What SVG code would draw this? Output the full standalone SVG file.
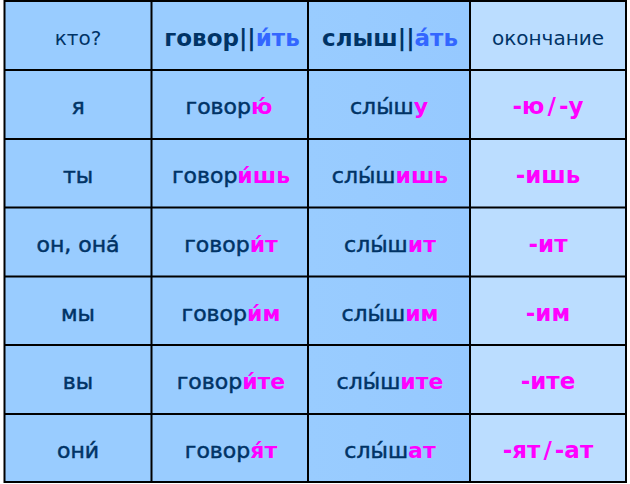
<svg xmlns="http://www.w3.org/2000/svg" width="630" height="484" viewBox="0 0 630 484">
<defs>
<linearGradient id="g3" x1="0" y1="0" x2="1" y2="0">
<stop offset="0" stop-color="#99CCFF"/>
<stop offset="1" stop-color="#96C9FF"/>
</linearGradient>
<style>
.c{fill:#99CCFF}
.c3{fill:url(#g3)}
.c4{fill:#BBDDFF}
text{font-family:"DejaVu Sans","Noto Sans",sans-serif;text-anchor:middle;fill:#003366;font-size:22px}
.r{stroke:#003366;stroke-width:0.5}
.h{font-size:20px}
.hb{font-size:23px;font-weight:bold}
.m{fill:#FF00FF;font-weight:bold;stroke:none}
.e{font-size:23px}
.bl{fill:#3366FF;font-weight:bold}
.grid{stroke:#000;stroke-width:2;fill:none}
</style>
</defs>
<rect x="0" y="0" width="630" height="484" fill="#FFFFFF"/>
<g id="backgrounds">
<rect class="c" x="4.5" y="1" width="147" height="481"/>
<rect class="c" x="151.5" y="1" width="157" height="481"/>
<rect class="c3" x="308" y="1" width="162" height="481"/>
<rect class="c4" x="470" y="1" width="156" height="481"/>
</g>
<g id="header">
<text class="h" x="78" y="44.5">кто?</text>
<text class="hb" x="232" y="46">говор||<tspan class="bl">и́ть</tspan></text>
<text class="hb" x="390" y="46">слыш||<tspan class="bl">а́ть</tspan></text>
<text class="h" x="548" y="44.5">окончание</text>
</g>
<g id="row-ya">
<text class="r" x="78" y="113.5">я</text>
<text class="r" x="229" y="113.5">говор<tspan class="m">ю́</tspan></text>
<text class="r" x="389" y="113.5">слы́ш<tspan class="m">у</tspan></text>
<text class="m e" x="548" y="113.5">-ю<tspan dx="3">/</tspan><tspan dx="3">-у</tspan></text>
</g>
<g id="row-ty">
<text class="r" x="78" y="183">ты</text>
<text class="r" x="231" y="183">говор<tspan class="m">и́шь</tspan></text>
<text class="r" x="390" y="183">слы́ш<tspan class="m">ишь</tspan></text>
<text class="m e" x="548" y="183">-ишь</text>
</g>
<g id="row-on">
<text class="r" x="78" y="251.5">он, она́</text>
<text class="r" x="231" y="251.5">говор<tspan class="m">и́т</tspan></text>
<text class="r" x="390" y="251.5">слы́ш<tspan class="m">ит</tspan></text>
<text class="m e" x="548" y="251.5">-ит</text>
</g>
<g id="row-my">
<text class="r" x="78" y="320.5">мы</text>
<text class="r" x="231" y="320.5">говор<tspan class="m">и́м</tspan></text>
<text class="r" x="390" y="320.5">слы́ш<tspan class="m">им</tspan></text>
<text class="m e" x="548" y="320.5">-им</text>
</g>
<g id="row-vy">
<text class="r" x="78" y="389">вы</text>
<text class="r" x="231" y="389">говор<tspan class="m">и́те</tspan></text>
<text class="r" x="390" y="389">слы́ш<tspan class="m">ите</tspan></text>
<text class="m e" x="548" y="389">-ите</text>
</g>
<g id="row-oni">
<text class="r" x="78" y="457.5">они́</text>
<text class="r" x="231" y="457.5">говор<tspan class="m">я́т</tspan></text>
<text class="r" x="390" y="457.5">слы́ш<tspan class="m">ат</tspan></text>
<text class="m e" x="548" y="457.5">-ят<tspan dx="3">/</tspan><tspan dx="3">-ат</tspan></text>
</g>
<g id="grid" class="grid">
<rect x="4.5" y="1" width="621.5" height="481"/>
<line x1="151.5" y1="1" x2="151.5" y2="482"/>
<line x1="308" y1="1" x2="308" y2="482"/>
<line x1="470" y1="1" x2="470" y2="482"/>
<line x1="4.5" y1="70" x2="626" y2="70"/>
<line x1="4.5" y1="139" x2="626" y2="139"/>
<line x1="4.5" y1="207.5" x2="626" y2="207.5"/>
<line x1="4.5" y1="276.5" x2="626" y2="276.5"/>
<line x1="4.5" y1="345" x2="626" y2="345"/>
<line x1="4.5" y1="414" x2="626" y2="414"/>
</g>
</svg>
